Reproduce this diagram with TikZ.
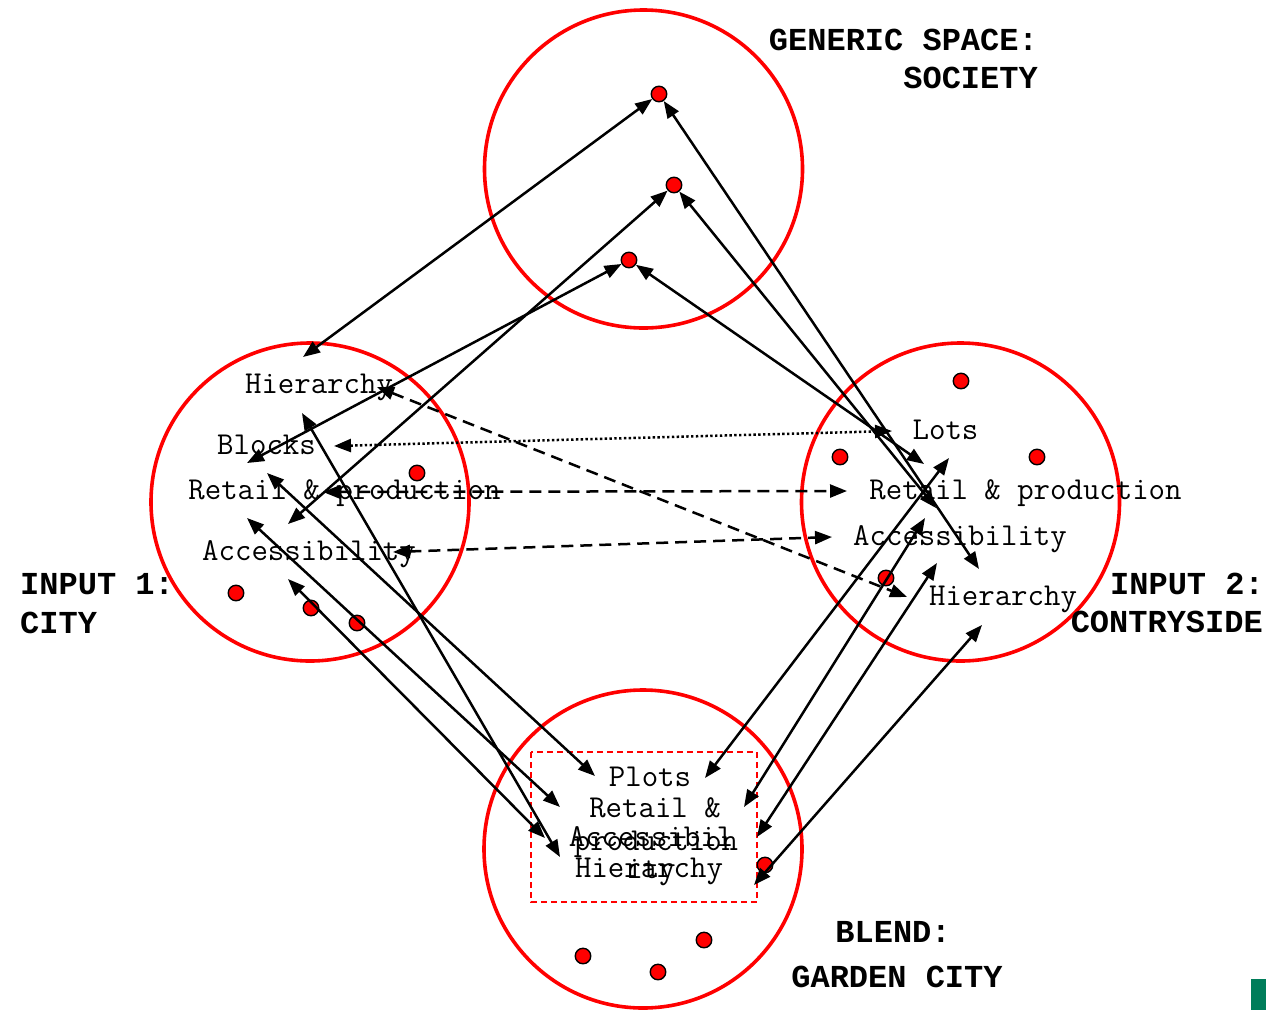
\documentclass[tikz,border=0pt]{standalone}
\usepackage{fontspec}
\newfontfamily\cour{Liberation Mono}
\usetikzlibrary{arrows.meta}
\definecolor{tagreen}{RGB}{0,125,90}
\begin{document}
\begin{tikzpicture}[x=1pt,y=-1pt,
  ring/.style={draw=red, line width=3.6pt},
  dot/.style={circle, fill=red, draw=black, line width=1.4pt, minimum size=15.5pt, inner sep=0pt},
  lbl/.style={font=\ttfamily\fontsize{31.9}{34}\selectfont, inner sep=0pt, anchor=base},
  ttl/.style={font=\cour\bfseries\fontsize{32}{36}\selectfont, inner sep=0pt},
  tip/.tip={Triangle[length=17pt,width=13pt]},
  link/.style={line width=2.5pt, tip-tip},
  dsh/.style={link, dash pattern=on 12pt off 7pt},
  dtt/.style={link, dash pattern=on 2.4pt off 2.4pt},
]
\useasboundingbox (0,0) rectangle (1266,1010);

% spaces
\draw[ring] (643.5,169) circle[radius=159];
\draw[ring] (310,502) circle[radius=159];
\draw[ring] (960.5,502) circle[radius=159];
\draw[ring] (643,849) circle[radius=159];
\draw[red, line width=1.8pt, dash pattern=on 6pt off 4pt] (531,752) rectangle (757,902);

% titles
\node[ttl, anchor=base east] (t1) at (1038,50) {GENERIC SPACE:};
\node[ttl, anchor=base east] (t2) at (1038,88) {SOCIETY};
\node[ttl, anchor=base west] (t3) at (20,594) {INPUT 1:};
\node[ttl, anchor=base west] (t4) at (20,633) {CITY};
\node[ttl, anchor=base east] (t5) at (1264,594) {INPUT 2:};
\node[ttl, anchor=base east] (t6) at (1263,632) {CONTRYSIDE};
\node[ttl, anchor=base] (t7) at (893,942) {BLEND:};
\node[ttl, anchor=base] (t8) at (897,987) {GARDEN CITY};

% labels input 1
\node[lbl] (aH) at (319,393) {Hierarchy};
\node[lbl] (aB) at (266.5,454) {Blocks};
\node[lbl] (aR) at (344.5,499) {Retail \& production};
\node[lbl] (aA) at (309,560) {Accessibility};
% labels input 2
\node[lbl] (bL) at (945.5,439) {Lots};
\node[lbl] (bR) at (1025.5,499) {Retail \& production};
\node[lbl] (bA) at (960,545) {Accessibility};
\node[lbl] (bH) at (1003,605) {Hierarchy};
% labels blend
\node[lbl] (cP) at (650,786) {Plots};
\node[lbl] (cR1) at (655,817) {Retail \&};
\node[lbl] (cR2) at (656,850) {production};
\node[lbl] (cA1) at (651,846) {Accessibil};
\node[lbl] (cA2) at (651,878) {ity};
\node[lbl] (cH) at (649,877) {Hierarchy};

% dots
\node[dot] (g1) at (659,94) {};
\node[dot] (g2) at (674,185) {};
\node[dot] (g3) at (629,260) {};
\node[dot] (d1) at (417,473) {};
\node[dot] (d2) at (236,593) {};
\node[dot] (d3) at (311,608) {};
\node[dot] (d4) at (357,623) {};
\node[dot] (e1) at (961,381) {};
\node[dot] (e2) at (840,457) {};
\node[dot] (e3) at (1037,457) {};
\node[dot] (e4) at (886,578) {};
\node[dot] (f1) at (765,865) {};
\node[dot] (f2) at (583,956) {};
\node[dot] (f3) at (658,972) {};
\node[dot] (f4) at (704,940) {};

% connector end points
\coordinate (pAH) at (303,357);
\coordinate (pAA) at (288,524);
\coordinate (pAB) at (247,463);
\coordinate (pBH) at (979,569);
\coordinate (pBA) at (936,508);
\coordinate (pBR) at (924,464);

\coordinate (qB1) at (334,446);
\coordinate (qL1) at (892,431);
\coordinate (qR1) at (323,492);
\coordinate (qR2) at (847,491);
\coordinate (qA1) at (393,552);
\coordinate (qA2) at (832,537);
\coordinate (qH1) at (377,387);
\coordinate (qH2) at (907,597);

\coordinate (rB) at (267,473);
\coordinate (rP) at (595,776);
\coordinate (rH) at (302,413);
\coordinate (rHb) at (560,857);
\coordinate (rR) at (247,518);
\coordinate (rRb) at (560,807);
\coordinate (rA) at (288,579);
\coordinate (rAb) at (545,838);

\coordinate (sP) at (705,778);
\coordinate (sL) at (949,458);
\coordinate (sR) at (744,807);
\coordinate (sRb) at (925,518);
\coordinate (sA) at (757,837);
\coordinate (sAb) at (937,563);
\coordinate (sH) at (754,885);
\coordinate (sHb) at (982,625);

% generic connectors
\draw[link] (g1) -- (pAH);
\draw[link] (g2) -- (pAA);
\draw[link] (g3) -- (pAB);
\draw[link] (g1) -- (pBH);
\draw[link] (g2) -- (pBA);
\draw[link] (g3) -- (pBR);

% cross-space mappings
\draw[dtt] (qB1) -- (qL1);
\draw[dsh] (qR1) -- (qR2);
\draw[dsh] (qA1) -- (qA2);
\draw[dsh] (qH1) -- (qH2);

% blend connectors from input 1
\draw[link] (rB) -- (rP);
\draw[link] (rH) -- (rHb);
\draw[link] (rR) -- (rRb);
\draw[link] (rA) -- (rAb);

% blend connectors from input 2
\draw[link] (sP) -- (sL);
\draw[link] (sR) -- (sRb);
\draw[link] (sA) -- (sAb);
\draw[link] (sH) -- (sHb);

% corner mark
\fill[tagreen] (1251,979) rectangle (1266,1010);
\end{tikzpicture}
\end{document}
